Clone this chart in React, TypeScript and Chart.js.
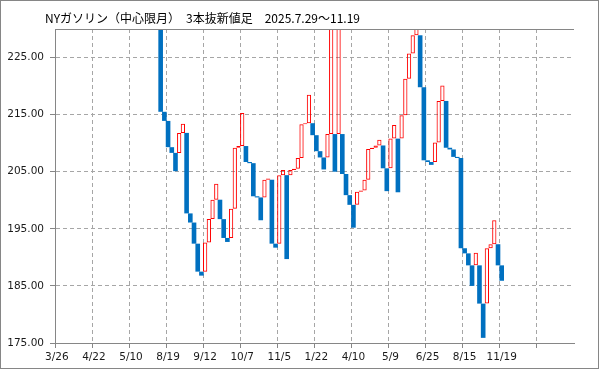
import React, { useEffect, useRef } from 'react';
import { Chart, registerables } from 'chart.js';

Chart.register(...registerables);

const titleText = 'NYガソリン（中心限月）　3本抜新値足　2025.7.29～11.19';

// x-axis tick labels, one every `barsPerTick` bars
const tickLabels = ['3/26', '4/22', '5/10', '8/19', '9/12', '10/7', '11/5', '1/22', '4/10', '5/9', '6/25', '8/15', '11/19', ''];
const barsPerTick = 10;

// earlier bars lie entirely above the visible price range
const hiddenLeadingBars = 28;

// line-break bars: opening and closing price of each bar
const barOpen = [
  232, 215.5, 213.9, 209.3, 208.3, 208.3, 211.8, 211.8, 197.7, 196.1,
  192.4, 187.5, 187.5, 192.6, 196.7, 200.1, 200.1, 196.7, 193.4, 193.4,
  198.5, 209.2, 209.5, 209.5, 206.7, 206.5, 200.7, 200.5, 200.5, 203.6,
  203.6, 192.4, 192.4, 204.4, 204.4, 204.4, 205.3, 205.5, 207.4, 213.3,
  213.5, 213.5, 211.4, 208.6, 207.5, 207.5, 211.6, 211.6, 211.6, 211.6,
  204.6, 200.9, 199.2, 199.2, 201.5, 201.7, 203.6, 209.0, 209.2, 209.6,
  209.6, 205.6, 205.6, 210.8, 210.8, 210.8, 214.9, 221.3, 225.7, 228.9,
  228.9, 219.8, 207.0, 206.7, 206.7, 210.1, 217.4, 217.4, 209.2, 208.9,
  207.6, 207.4, 191.6, 190.7, 188.6, 188.6, 188.6, 181.9, 181.9, 191.6,
  192.3, 192.3, 188.6,
];
const barClose = [
  215.5, 213.9, 209.3, 208.3, 205.1, 211.8, 213.4, 197.7, 196.1, 192.4,
  187.5, 186.8, 192.6, 196.7, 200.1, 202.9, 196.7, 193.4, 192.7, 198.5,
  209.2, 209.5, 215.3, 206.7, 206.5, 200.7, 200.5, 196.5, 203.6, 203.8,
  192.4, 191.7, 204.4, 205.3, 189.7, 205.3, 205.5, 207.4, 213.3, 213.5,
  218.5, 211.4, 208.6, 207.5, 205.4, 211.6, 232, 205.0, 232, 204.6,
  200.9, 199.2, 195.2, 201.5, 201.7, 203.6, 209.0, 209.2, 209.6, 210.6,
  205.6, 201.6, 210.8, 213.2, 201.4, 214.9, 221.3, 225.7, 228.9, 232,
  219.8, 207.0, 206.7, 206.2, 210.1, 217.4, 220.1, 209.2, 208.9, 207.6,
  207.4, 191.6, 190.7, 188.6, 185.0, 190.8, 181.9, 175.9, 191.6, 192.3,
  196.5, 188.6, 185.9,
];

const yTicks = [175, 185, 195, 205, 215, 225];
const yMin = 175;
const yMax = 230;

const axisColor = '#868686';
const gridColor = '#a6a6a6';
const labelColor = '#1a1a1a';
const tickFont = { family: '"DejaVu Sans", sans-serif', size: 10.5 };

const framePlugin = {
  id: 'frame',
  beforeDraw(chart: any) {
    const { ctx, width, height } = chart;
    ctx.save();
    ctx.fillStyle = '#ffffff';
    ctx.fillRect(0, 0, width, height);
    ctx.restore();
  },
  afterDraw(chart: any) {
    const { ctx, chartArea: a, width, height } = chart;
    ctx.save();
    ctx.strokeStyle = axisColor;
    ctx.lineWidth = 1;
    ctx.strokeRect(0.5, 0.5, width - 1, height - 1);
    const ty = Math.round(a.top) + 0.5;
    ctx.beginPath();
    ctx.moveTo(a.left, ty);
    ctx.lineTo(a.right, ty);
    ctx.stroke();
    ctx.fillStyle = '#000000';
    ctx.font = '12px "Noto Sans CJK JP", sans-serif';
    ctx.textBaseline = 'middle';
    ctx.textAlign = 'left';
    ctx.fillText(titleText, 45, 18);
    ctx.restore();
  },
};

export default function App() {
  const ref = useRef<HTMLCanvasElement>(null);

  useEffect(() => {
    if (!ref.current) return;
    const total = tickLabels.length * barsPerTick;
    const labels = Array.from({ length: total }, (_, i) =>
      i % barsPerTick === 0 ? tickLabels[i / barsPerTick] : ''
    );
    const up: any[] = Array(total).fill(null);
    const down: any[] = Array(total).fill(null);
    barOpen.forEach((o, k) => {
      const c = barClose[k];
      const i = hiddenLeadingBars + k;
      if (c > o) up[i] = [o, c];
      else down[i] = [o, c];
    });

    const chart = new Chart(ref.current, {
      type: 'bar',
      data: {
        labels,
        datasets: [
          {
            data: up,
            backgroundColor: 'rgba(255,255,255,0)',
            borderColor: '#ff0000',
            borderWidth: 1,
            borderSkipped: false,
            barPercentage: 1.15,
            categoryPercentage: 1,
            grouped: false,
          } as any,
          {
            data: down,
            backgroundColor: '#0070c0',
            borderWidth: 0,
            barPercentage: 1.25,
            categoryPercentage: 1,
            grouped: false,
          } as any,
        ],
      },
      options: {
        responsive: true,
        maintainAspectRatio: false,
        animation: false,
        layout: { padding: { left: 0, right: 25, top: 29, bottom: 0 } },
        plugins: {
          legend: { display: false },
          title: { display: false },
          tooltip: { enabled: false },
        },
        scales: {
          x: {
            type: 'category',
            offset: true,
            grid: {
              offset: true,
              color: (ctx: any) => (ctx.index % barsPerTick === 0 && ctx.index > 0 ? gridColor : 'rgba(0,0,0,0)'),
              lineWidth: 1,
              drawTicks: true,
              tickLength: 5,
              tickColor: (ctx: any) => (ctx.index % barsPerTick === 0 ? axisColor : 'rgba(0,0,0,0)'),
              tickWidth: 1,
            },
            border: { display: true, color: axisColor, width: 1, dash: [4, 3] },
            ticks: {
              autoSkip: false,
              maxRotation: 0,
              minRotation: 0,
              padding: 3,
              color: labelColor,
              font: tickFont,
            },
            afterFit: (s: any) => {
              s.height = 26;
            },
          },
          y: {
            min: yMin,
            max: yMax,
            afterBuildTicks: (s: any) => {
              s.ticks = yTicks.map((v) => ({ value: v }));
            },
            grid: {
              color: (ctx: any) => (ctx.index === 0 ? 'rgba(0,0,0,0)' : gridColor),
              lineWidth: 1,
              tickLength: 5,
              tickColor: axisColor,
              tickWidth: 1,
            },
            border: { display: true, color: axisColor, width: 1, dash: [4, 3] },
            ticks: {
              callback: (v: any) => Number(v).toFixed(2),
              padding: 6,
              color: labelColor,
              font: tickFont,
            },
            afterFit: (s: any) => {
              s.width = 55;
            },
          },
        },
      } as any,
      plugins: [framePlugin],
    });
    return () => chart.destroy();
  }, []);

  return (
    <div style={{ position: 'absolute', left: 0, top: 0, width: 599, height: 369 }}>
      <canvas ref={ref} />
    </div>
  );
}
